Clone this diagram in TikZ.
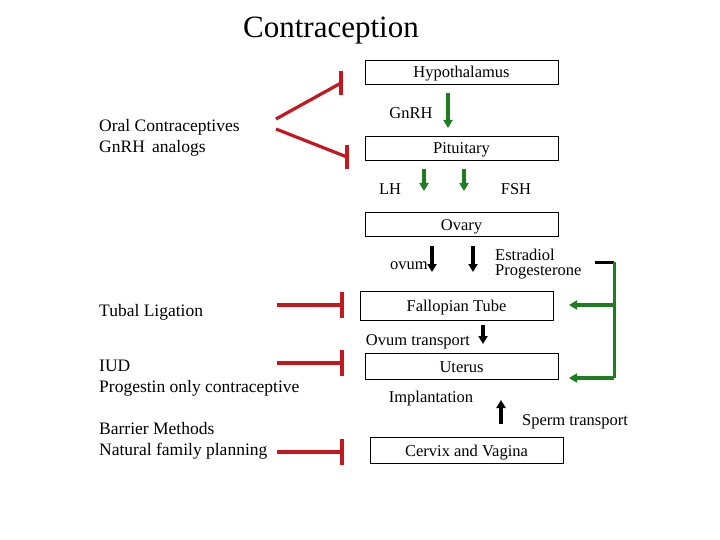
\documentclass[tikz,border=0pt]{standalone}
\usepackage{fontspec}
\setmainfont{Liberation Serif}
\usetikzlibrary{arrows.meta}
\definecolor{inh}{RGB}{196,24,30}
\definecolor{grn}{RGB}{30,125,30}
\begin{document}
\begin{tikzpicture}[x=1pt,y=-1pt,
 box/.style={draw,line width=0.8pt,minimum width=193pt,minimum height=24pt,inner sep=0pt,text depth=2pt,text height=14pt,font=\fontsize{16.5}{18}\selectfont},
 lab/.style={font=\fontsize{16.5}{18}\selectfont,inner sep=0pt},
 llab/.style={lab,anchor=west,align=left,font=\fontsize{17.5}{21.5}\selectfont},
 garr/.style={draw=grn,line width=3.4pt,-{Triangle[length=8pt,width=9pt]}},
 karr/.style={draw=black,line width=3.4pt,-{Triangle[length=8pt,width=9pt]}},
 rline/.style={draw=inh,line width=3.2pt}]
\useasboundingbox (0,0) rectangle (720,540);
\node[lab,font=\fontsize{31}{34}\selectfont] (title) at (331,31) {Contraception};
\node[box] (hyp) at (461.5,72) {Hypothalamus};
\node[box] (pit) at (461.5,148) {Pituitary};
\node[box] (ova) at (461.5,224) {Ovary};
\node[box,minimum height=29pt] (fal) at (456.5,305.5) {Fallopian Tube};
\node[box,minimum height=26pt] (ute) at (461.5,366) {Uterus};
\node[box,minimum height=26pt] (cer) at (466.5,450) {Cervix and Vagina};
\node[lab] (gnrh) at (411,113) {GnRH};
\node[lab] (lh) at (390,189) {LH};
\node[lab] (fsh) at (516,189) {FSH};
\node[lab] (ovum) at (409,266) {ovum};
\node[lab,align=left,anchor=west,font=\fontsize{16.5}{15}\selectfont] (est) at (495,264) {Estradiol\\Progesterone};
\node[lab] (ovt) at (418,342) {Ovum transport};
\node[lab] (imp) at (431,399) {Implantation};
\node[lab] (spt) at (575,422) {Sperm transport};
\node[llab] (oc) at (99,138) {Oral Contraceptives\\GnRH\, analogs};
\node[llab] (tl) at (99,312) {Tubal Ligation};
\node[llab] (iud) at (99,378) {IUD\\Progestin only contraceptive};
\node[llab] (bm) at (99,441) {Barrier Methods\\Natural family planning};
\coordinate (g1) at (448,93); \coordinate (g2) at (448,128);
\draw[garr] (g1) -- (g2);
\coordinate (l1) at (424,169); \coordinate (l2) at (424,191);
\coordinate (f1) at (464,169); \coordinate (f2) at (464,191);
\draw[garr] (l1) -- (l2); \draw[garr] (f1) -- (f2);
\coordinate (o1) at (432,246); \coordinate (o2) at (432,272);
\coordinate (e1) at (473,246); \coordinate (e2) at (473,272);
\draw[karr] (o1) -- (o2); \draw[karr] (e1) -- (e2);
\coordinate (ft1) at (483,325); \coordinate (ft2) at (483,344);
\draw[karr] (ft1) -- (ft2);
\coordinate (s1) at (501,424); \coordinate (s2) at (501,400);
\draw[karr] (s1) -- (s2);
\coordinate (fb0) at (595,262); \coordinate (fb1) at (614,262);
\coordinate (fb2) at (614,305); \coordinate (fb3) at (614,378);
\coordinate (fa) at (569,305); \coordinate (ua) at (569,378);
\draw[black,line width=3pt] (fb0) -- (fb1);
\draw[grn,line width=3pt] (fb1) -- (fb3);
\draw[garr] (fb2) -- (fa); \draw[garr] (fb3) -- (ua);
\coordinate (r1a) at (276,119); \coordinate (r1b) at (341,83);
\coordinate (r2a) at (276,129); \coordinate (r2b) at (347,157);
\draw[rline] (r1a) -- (r1b); \draw[rline] (r2a) -- (r2b);
\draw[rline] (341,71) -- (341,95); \draw[rline] (347,145) -- (347,169);
\coordinate (t1) at (277,305); \coordinate (t2) at (342,305);
\coordinate (i1) at (277,363); \coordinate (i2) at (342,363);
\coordinate (b1) at (277,452); \coordinate (b2) at (342,452);
\draw[rline] (t1) -- (t2); \draw[rline] (i1) -- (i2); \draw[rline] (b1) -- (b2);
\draw[rline] (342,292) -- (342,318); \draw[rline] (342,350) -- (342,376); \draw[rline] (342,439) -- (342,465);
\end{tikzpicture}
\end{document}
